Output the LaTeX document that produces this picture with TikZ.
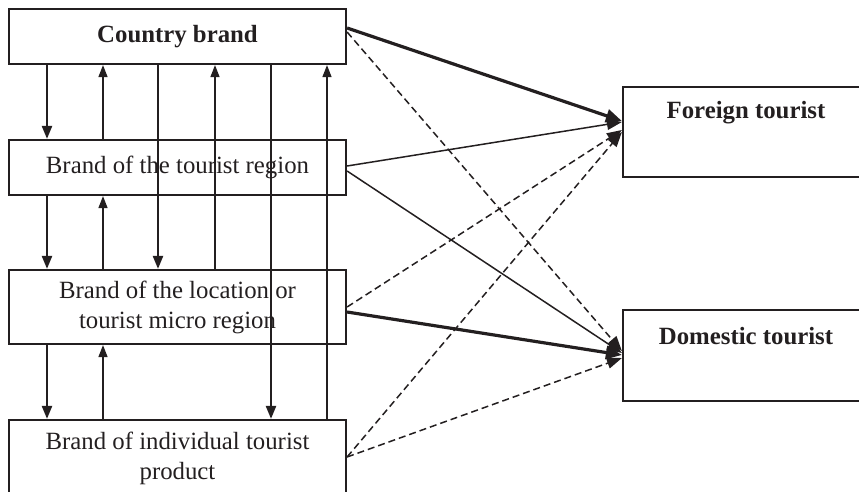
\documentclass[tikz,border=0pt]{standalone}
\usepackage{fontspec}
\setmainfont{Liberation Serif}
\usetikzlibrary{arrows.meta}
\definecolor{ink}{HTML}{231F20}
\begin{document}
\begin{tikzpicture}[x=1pt,y=-1pt,
  box/.style={draw=ink, line width=2.2pt, rectangle, inner sep=0pt, align=center,
    font=\fontsize{24.8}{30}\selectfont, text=ink},
  lbl/.style={inner sep=0pt, font=\fontsize{24.8}{30}\selectfont\bfseries, text=ink},
  vdown/.style={draw=ink, line width=2.3pt, -{Triangle[length=13pt,width=10pt]}},
  vup/.style={draw=ink, line width=1.5pt, -{Triangle[length=12pt,width=9pt]}},
  heavy/.style={draw=ink, line width=3.2pt, -{Triangle[length=16pt,width=13pt]}},
  light/.style={draw=ink, line width=1.5pt, -{Triangle[length=15pt,width=11pt]}},
  dashline/.style={draw=ink, line width=1.5pt, dash pattern=on 7pt off 4pt, -{Triangle[length=15pt,width=11pt]}}
]
\useasboundingbox (0,0) rectangle (859,492);
% left column
\node[box, minimum width=337pt, minimum height=55pt, font=\fontsize{24.8}{30}\selectfont\bfseries] (cb) at (177.5,36.5) {Country brand};
\node[box, minimum width=337pt, minimum height=55pt] (tr) at (177.5,167.5) {Brand of the tourist region};
\node[box, minimum width=337pt, minimum height=74pt] (loc) at (177.5,307) {Brand of the location or\\tourist micro region};
\node[box, minimum width=337pt, minimum height=76pt] (ind) at (177.5,458) {Brand of individual tourist\\product};
% right column
\node[box, minimum width=246pt, minimum height=90pt] (ft) at (746,132) {};
\node[lbl] (ftl) at (746,113) {Foreign tourist};
\node[box, minimum width=246pt, minimum height=91pt] (dt) at (746,355.5) {};
\node[lbl] (dtl) at (746,336) {Domestic tourist};
% vertical connectors
\draw[vdown] (cb.south -| 47,0) -- (tr.north -| 47,0);
\draw[vdown] (tr.south -| 47,0) -- (loc.north -| 47,0);
\draw[vdown] (loc.south -| 47,0) -- (ind.north -| 47,0);
\draw[vup] (tr.north -| 103,0) -- (cb.south -| 103,0);
\draw[vup] (loc.north -| 103,0) -- (tr.south -| 103,0);
\draw[vup] (ind.north -| 103,0) -- (loc.south -| 103,0);
\draw[vdown] (cb.south -| 158,0) -- (loc.north -| 158,0);
\draw[vup] (loc.north -| 215,0) -- (cb.south -| 215,0);
\draw[vdown] (cb.south -| 271,0) -- (ind.north -| 271,0);
\draw[vup] (ind.north -| 327,0) -- (cb.south -| 327,0);
% diagonal connectors
\draw[heavy] ([yshift=8.5pt]cb.east) -- ([yshift=11pt]ft.west);
\draw[dashline] ([yshift=4.5pt]cb.east) -- ([yshift=4.5pt]dt.west);
\draw[light] ([yshift=1.5pt]tr.east) -- ([yshift=10pt]ft.west);
\draw[light] ([yshift=-3.5pt]tr.east) -- ([yshift=2.5pt]dt.west);
\draw[dashline] ([yshift=0pt]loc.east) -- ([yshift=2pt]ft.west);
\draw[heavy] ([yshift=-5pt]loc.east) -- ([yshift=0.5pt]dt.west);
\draw[dashline] ([yshift=1pt]ind.east) -- ([yshift=0pt]ft.west);
\draw[dashline] ([yshift=1pt]ind.east) -- ([yshift=-2.5pt]dt.west);
\end{tikzpicture}
\end{document}
